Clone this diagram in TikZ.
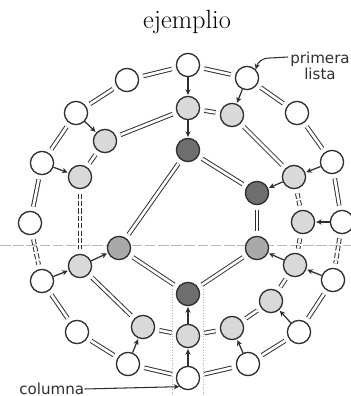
\documentclass[tikz,border=0pt]{standalone}
\usepackage{fontspec}
\newfontfamily\labelfont{DejaVu Sans}
\usetikzlibrary{arrows.meta}
\definecolor{lightfill}{HTML}{D9D9D9}
\definecolor{midfill}{HTML}{A9A9A9}
\definecolor{darkfill}{HTML}{6E6E6E}
\definecolor{inkc}{HTML}{2E2E2E}
\tikzset{
  nd/.style={circle,draw=inkc,line width=0.75pt,minimum size=13.2pt,inner sep=0pt},
  wn/.style={nd,fill=white},
  ln/.style={nd,fill=lightfill},
  mn/.style={nd,fill=midfill},
  dn/.style={nd,fill=darkfill},
  dbl/.style={draw=inkc,line width=0.55pt,double=white,double distance=1.5pt,shorten <=2.5pt,shorten >=2.5pt},
  dbld/.style={dbl,dash pattern=on 3pt off 1.2pt},
  arr/.style={draw=inkc,line width=0.7pt,-{Stealth[length=3.2pt,width=3pt]},shorten >=0.5pt},
  lbl/.style={font=\labelfont\fontsize{8.6}{9.4}\selectfont,text=inkc,inner sep=0pt}
}
\begin{document}
\begin{tikzpicture}[x=0.02cm,y=-0.02cm]
\useasboundingbox (0,0) rectangle (351,396);
% fold line and column guides
\draw[gray!55,line width=0.5pt,dash pattern=on 6pt off 1.5pt] (0,245) -- (351,245);
\draw[gray!60,line width=0.5pt,densely dotted] (172,289) -- (172,396);
\draw[gray!60,line width=0.5pt,densely dotted] (203,289) -- (203,396);
% title
\node[font=\fontsize{15}{17}\selectfont,anchor=base,inner sep=0pt] (title) at (187,28) {ejemplio};
% white nodes
\node[wn] (w1) at (188,65) {};
\node[wn] (w2) at (127,80) {};
\node[wn] (w3) at (247,78) {};
\node[wn] (w4) at (76,113) {};
\node[wn] (w5) at (297,113) {};
\node[wn] (w6) at (42,163) {};
\node[wn] (w7) at (332,162) {};
\node[wn] (w8) at (30,223) {};
\node[wn] (w9) at (342,222) {};
\node[wn] (w10) at (42,281) {};
\node[wn] (w11) at (333,280) {};
\node[wn] (w12) at (77,332) {};
\node[wn] (w13) at (299,332) {};
\node[wn] (w14) at (128,364) {};
\node[wn] (w15) at (248,364) {};
\node[wn] (w16) at (188,378) {};
% light nodes
\node[ln] (l1) at (188,108) {};
\node[ln] (l2) at (232,115) {};
\node[ln] (l3) at (105,141) {};
\node[ln] (l4) at (80,177) {};
\node[ln] (l5) at (294,177) {};
\node[ln] (l6) at (303,222) {};
\node[ln] (l7) at (80,266) {};
\node[ln] (l8) at (295,265) {};
\node[ln] (l9) at (143,327) {};
\node[ln] (l10) at (188,336) {};
\node[ln] (l11) at (232,328) {};
\node[ln] (l12) at (271,301) {};
% dark and mid nodes
\node[dn] (d1) at (188,150) {};
\node[dn] (d2) at (257,193) {};
\node[dn] (d3) at (188,294) {};
\node[mn] (m1) at (119,248) {};
\node[mn] (m2) at (257,248) {};
% double links
\foreach \a/\b in {w2/w1,w1/w3,w3/w5,w2/w4,w4/w6,w5/w7,w6/w8,w7/w9,w10/w12,w11/w13,w12/w14,w13/w15,w14/w16,w16/w15,
  l1/l2,l3/l1,l2/l5,l3/l4,l7/l9,l8/l12,l9/l10,l12/l11,l11/l10,
  d1/d2,d1/m1,d2/m2,m1/d3,m2/d3}
  \path[dbl] (\a) -- (\b);
\foreach \a/\b in {w8/w10,w9/w11,l4/l7,l5/l6,l6/l8}
  \path[dbld] (\a) -- (\b);
% single arrows
\foreach \a/\b in {w1/l1,l1/d1,w3/l2,w4/l3,w6/l4,w7/l5,l5/d2,w9/l6,w10/l7,l7/m1,w11/l8,l8/m2,w13/l12,w15/l11,w14/l9,w16/l10,l10/d3}
  \path[arr] (\a) -- (\b);
% labels
\node[lbl,align=center] (prim) at (320,66) {primera\\lista};
\coordinate (primstart) at (288,57);
\draw[inkc,line width=0.6pt,-{Stealth[length=3.2pt,width=3pt]}] (primstart) -- (270,58) .. controls (262,58) and (258,62) .. (w3.north east);
\node[lbl,anchor=west] (col) at (19,389) {columna};
\draw[inkc,line width=0.6pt,-{Stealth[length=3.2pt,width=3pt]}] (col.east) -- (w16.south west);
\end{tikzpicture}
\end{document}
